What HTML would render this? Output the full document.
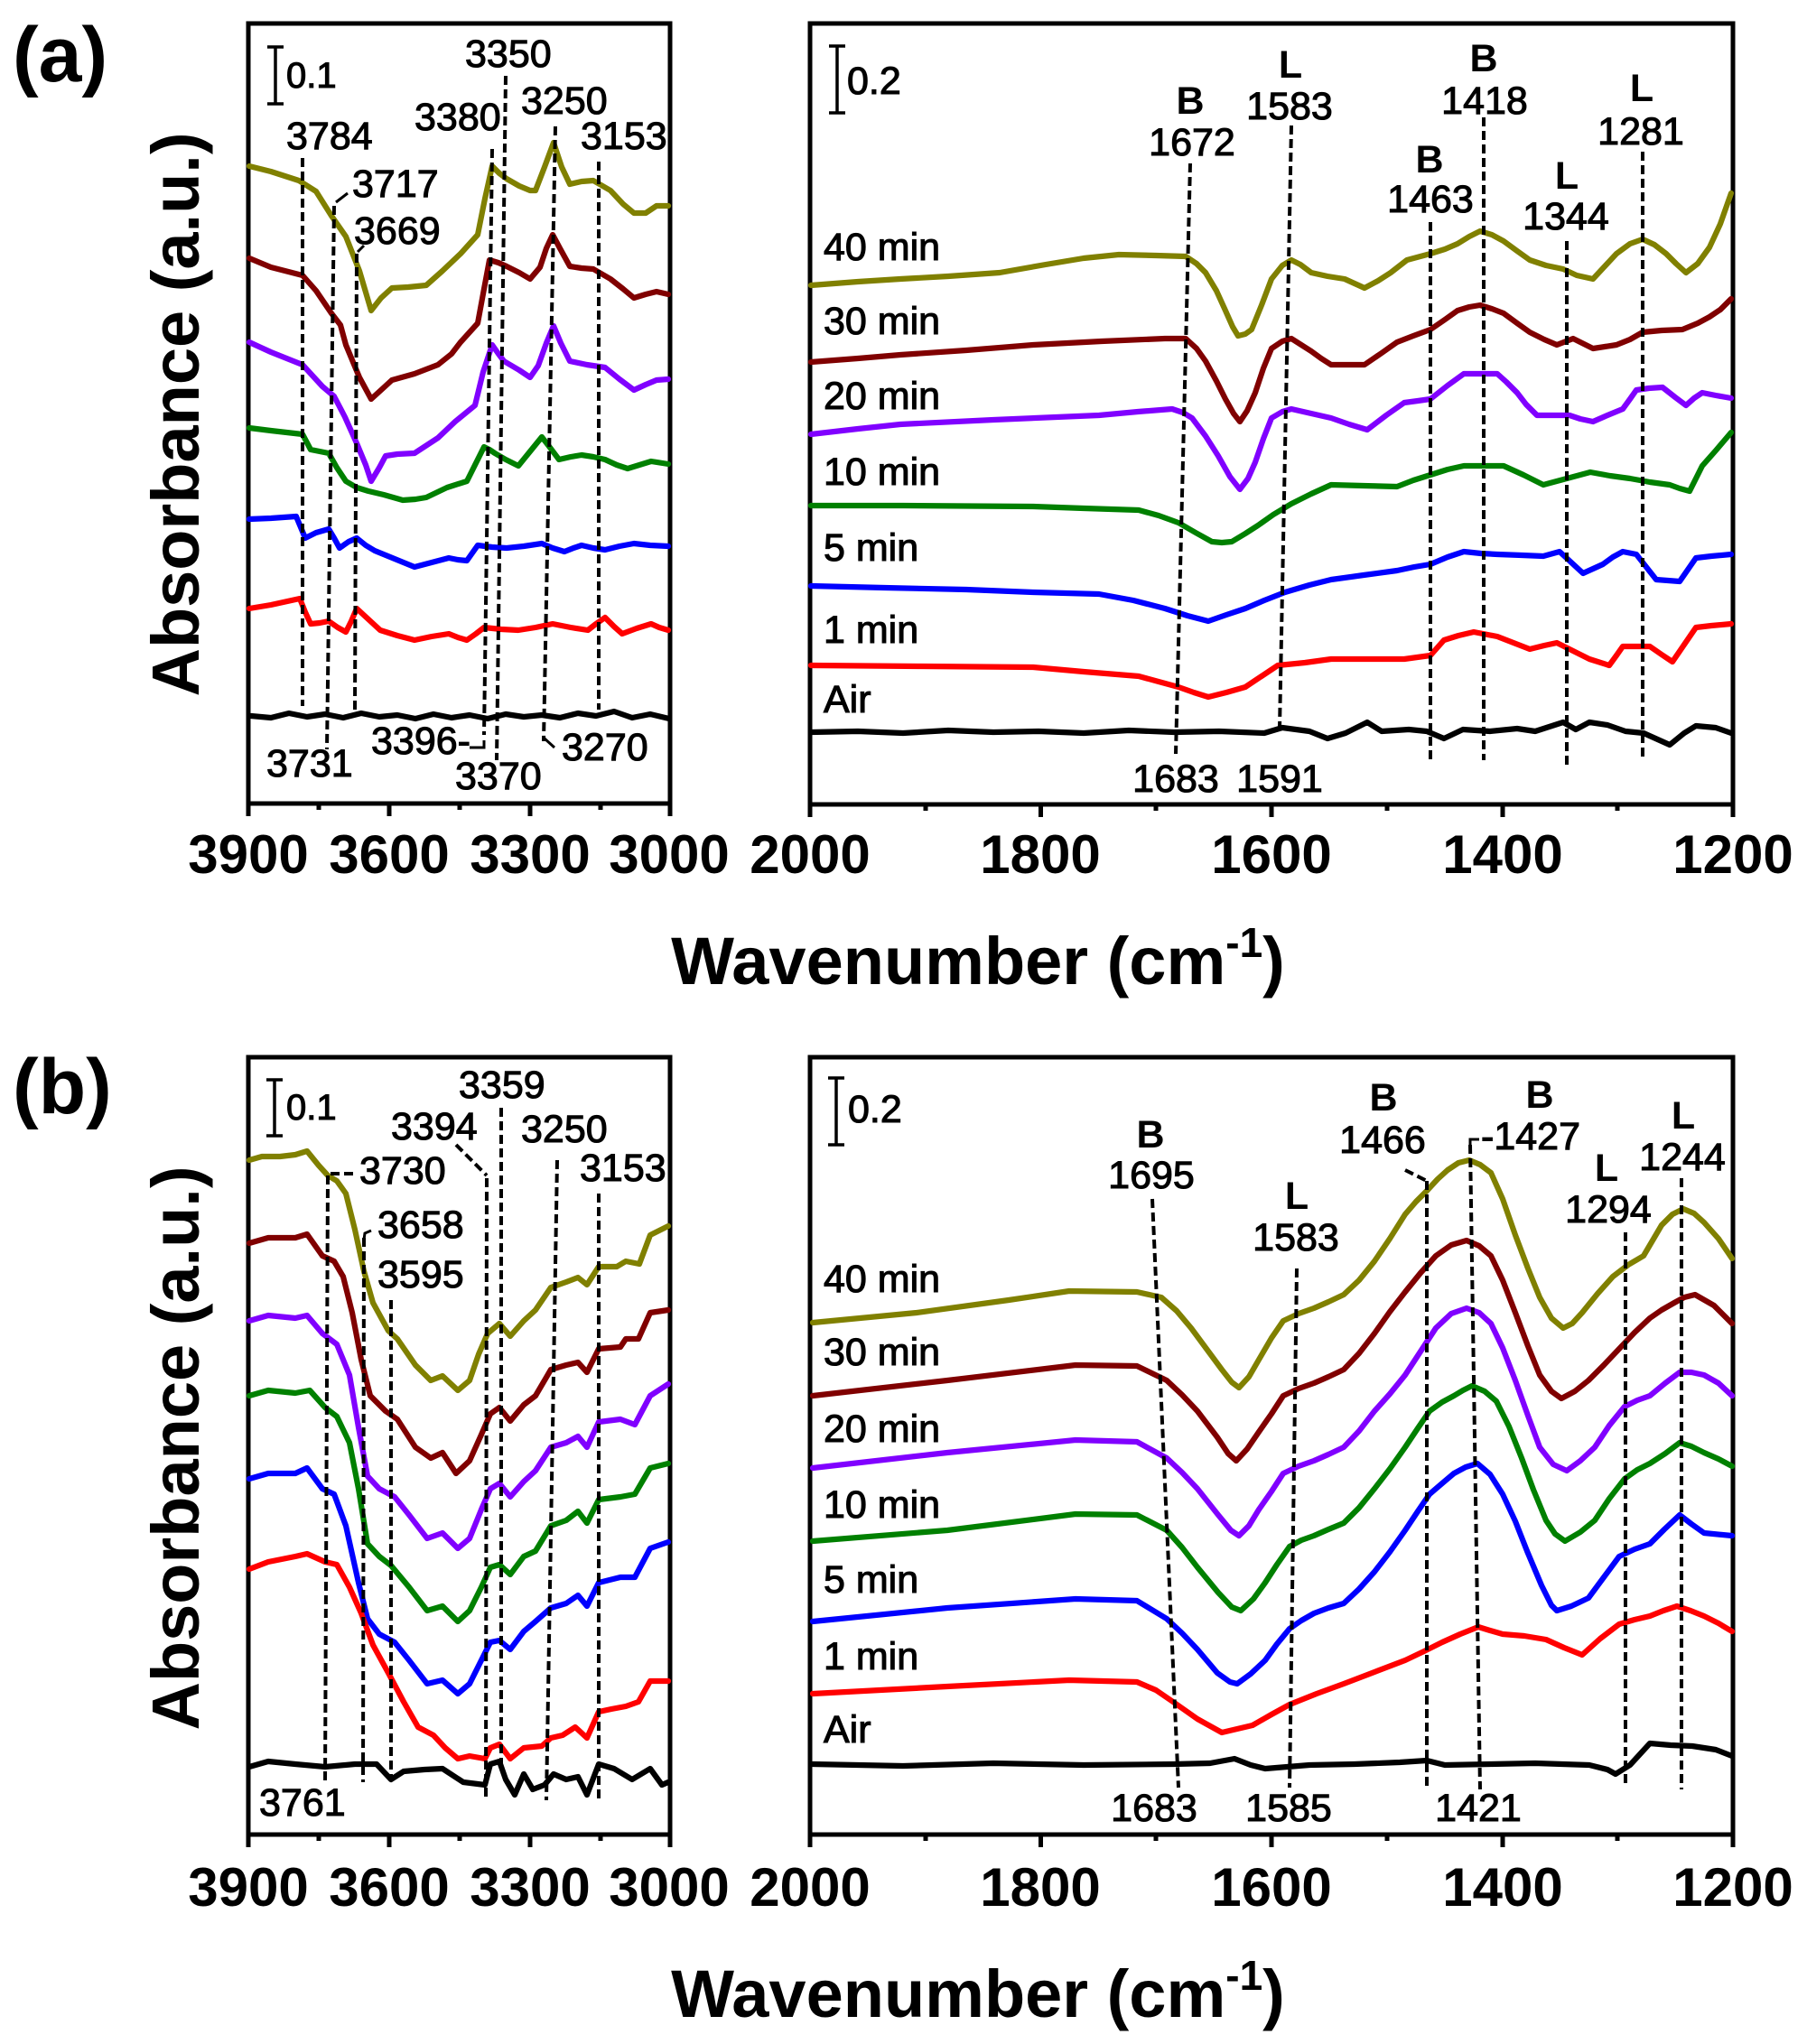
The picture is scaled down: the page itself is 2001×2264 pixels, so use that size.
<!DOCTYPE html>
<html><head><meta charset="utf-8"><style>
html,body{margin:0;padding:0;background:#fff;}
svg{display:block;}
text{font-family:"Liberation Sans",Arial,sans-serif;fill:#000;}
.n{font-size:43px;stroke:#000;stroke-width:1.1;}
.bl{font-size:43px;font-weight:bold;}
.tk{font-size:60px;font-weight:bold;}
.ax{font-size:74px;font-weight:bold;}
.c{fill:none;stroke-width:6.2;stroke-linejoin:round;stroke-linecap:round;}
.d{fill:none;stroke:#000;stroke-width:4;stroke-dasharray:10 5;}
.h{fill:none;stroke:#000;stroke-width:3;}
</style></head><body>
<svg width="2001" height="2264" viewBox="0 0 2001 2264" xmlns="http://www.w3.org/2000/svg">
<rect width="2001" height="2264" fill="#fff"/>

<!-- ============ PANEL (a) ============ -->
<text x="14" y="90" style="font-size:86px;font-weight:bold">(a)</text>
<text class="ax" transform="translate(220,459) rotate(-90)" text-anchor="middle">Absorbance (a.u.)</text>
<text class="ax" x="1083" y="1090" text-anchor="middle">Wavenumber (cm<tspan dy="-30" style="font-size:46px">-1</tspan><tspan dy="30">)</tspan></text>

<g stroke="#000" stroke-width="5" fill="none">
<rect x="275" y="26" width="467" height="864"/>
<path d="M275 890v14M431 890v14M587 890v14M742 890v14M353 890v7M509 890v7M665 890v7"/>
<rect x="897" y="26" width="1022" height="865"/>
<path d="M897 891v14M1152.5 891v14M1408 891v14M1664 891v14M1919 891v14M1025 891v7M1280 891v7M1536 891v7M1791 891v7"/>
</g>
<g class="tk" text-anchor="middle">
<text x="275" y="967">3900</text><text x="431" y="967">3600</text><text x="587" y="967">3300</text><text x="741" y="967">3000</text>
<text x="897" y="967">2000</text><text x="1152" y="967">1800</text><text x="1408" y="967">1600</text><text x="1664" y="967">1400</text><text x="1919" y="967">1200</text>
</g>

<path d="M305 52V115M296 52H314M296 115H314" stroke="#000" stroke-width="3.5" fill="none"/>
<text x="317" y="97" class="n" style="font-size:40px">0.1</text>
<path d="M927 51V125M918 51H936M918 125H936" stroke="#000" stroke-width="3.5" fill="none"/>
<text x="938" y="104" class="n">0.2</text>

<polyline class="c" stroke="#808000" points="276,184 300,190 331,200 350,212 367,239 383,262 398,300 411,344 422,330 434,319 452,318 472,316 490,300 510,281 529,260 537,220 545,184 553,192 561,198 575,206 587,211 593,211 603,185 613,158 622,185 631,204 644,201 657,200 676,211 690,226 702,236 715,236 727,228 740,228"/>
<polyline class="c" stroke="#800000" points="276,286 300,296 335,305 350,322 367,347 377,360 383,382 398,418 411,442 422,432 434,421 459,414 485,404 500,392 510,379 529,358 536,320 542,288 552,291 561,295 575,302 587,309 598,296 605,275 612,260 620,275 631,295 644,297 657,298 676,309 690,320 702,330 715,326 727,323 740,326"/>
<polyline class="c" stroke="#8000ff" points="276,379 300,390 335,404 346,416 357,428 370,439 382,462 395,491 405,515 411,533 420,518 427,505 440,503 459,502 485,485 504,467 526,449 535,412 545,382 552,392 558,400 575,410 587,418 596,405 605,380 613,361 621,380 631,400 650,404 670,407 686,420 702,432 715,426 727,421 740,420"/>
<polyline class="c" stroke="#008000" points="276,474 300,477 335,481 344,498 354,500 364,502 373,518 383,533 395,540 408,544 425,548 446,554 460,553 472,551 495,540 517,533 526,515 536,495 542,498 548,502 560,509 574,516 587,500 600,484 610,497 619,509 632,506 644,504 657,506 670,509 683,515 695,519 708,515 721,511 740,514"/>
<polyline class="c" stroke="#0000ff" points="276,575 300,574 328,572 338,596 350,590 364,586 370,596 376,607 386,600 395,596 405,604 415,610 437,619 459,628 478,623 497,618 507,620 517,621 529,604 545,606 561,607 580,605 600,602 612,607 625,611 635,607 644,604 657,607 670,609 686,605 702,602 720,604 740,605"/>
<polyline class="c" stroke="#ff0000" points="276,674 300,670 332,663 338,678 344,691 354,690 364,688 374,695 383,700 389,688 395,674 408,686 421,698 440,704 459,709 478,705 497,702 507,706 517,709 527,702 536,695 555,697 574,698 593,695 612,691 632,695 651,698 660,691 670,684 680,694 689,702 705,696 721,691 730,695 740,698"/>
<polyline class="c" stroke="#000" points="278,793 300,795 320,790 340,794 360,791 380,795 400,790 420,794 440,792 460,796 480,791 500,795 520,792 540,796 560,791 580,794 600,792 620,795 640,790 660,793 680,788 700,795 720,791 741,796"/>

<path class="d" d="M335 175L335 782M370 228L362 830M395 281L393 786M545 165L536 814M560 84L550 842M615 140L602 821M663 179L663 786"/>
<path class="h" d="M372 224L385 214M396 279L403 272M603 818L614 828M520 828L536 828L536 820"/>
<g class="n">
<text x="317" y="165">3784</text><text x="390" y="218">3717</text><text x="392" y="270">3669</text>
<text x="459" y="144">3380</text><text x="515" y="74">3350</text><text x="577" y="126">3250</text><text x="643" y="165">3153</text>
<text x="295" y="860">3731</text><text x="411" y="835">3396-</text><text x="504" y="874">3370</text><text x="622" y="842">3270</text>
</g>

<polyline class="c" stroke="#808000" points="898,316 950,312 997,309 1050,306 1107,302 1158,293 1200,286 1239,282 1280,283 1313,284 1325,292 1335,302 1347,322 1357,344 1365,362 1371,372 1379,370 1386,365 1397,338 1408,309 1420,294 1430,288 1440,293 1452,302 1470,306 1489,309 1500,314 1511,319 1526,311 1540,302 1558,288 1584,281 1600,276 1614,270 1627,262 1639,256 1652,260 1665,267 1680,278 1694,288 1712,294 1731,298 1746,305 1764,309 1777,295 1790,281 1805,270 1819,265 1832,271 1845,281 1856,292 1867,302 1880,292 1893,274 1905,248 1917,214"/>
<polyline class="c" stroke="#800000" points="898,401 950,397 997,393 1070,388 1144,382 1220,378 1290,375 1313,375 1325,386 1335,400 1347,422 1357,442 1366,458 1373,467 1381,455 1390,435 1399,408 1408,386 1420,378 1430,375 1441,382 1452,389 1463,397 1474,404 1490,404 1511,404 1530,391 1547,379 1565,372 1584,365 1600,354 1614,344 1627,340 1639,338 1652,342 1665,347 1680,358 1694,368 1710,376 1724,382 1742,375 1764,386 1790,382 1805,376 1819,368 1840,366 1863,365 1880,358 1893,351 1905,343 1917,331"/>
<polyline class="c" stroke="#8000ff" points="898,481 950,475 997,470 1100,465 1217,460 1260,456 1298,453 1310,457 1320,463 1335,483 1349,505 1362,528 1373,542 1382,530 1390,512 1399,486 1408,463 1420,456 1430,453 1452,458 1474,463 1494,470 1514,476 1535,460 1555,446 1570,444 1584,442 1603,427 1621,414 1640,414 1658,414 1668,423 1680,435 1690,448 1702,460 1720,460 1738,460 1750,464 1764,467 1780,460 1797,453 1805,442 1812,432 1826,430 1841,429 1855,440 1867,449 1876,441 1885,435 1900,438 1917,441"/>
<polyline class="c" stroke="#008000" points="898,560 1000,560 1144,561 1200,563 1261,565 1283,571 1305,579 1324,590 1342,600 1353,601 1364,600 1379,591 1393,582 1410,570 1430,558 1452,547 1474,537 1510,538 1547,539 1565,532 1584,526 1603,520 1621,516 1643,516 1665,516 1687,526 1709,537 1735,530 1761,523 1783,527 1805,530 1827,534 1849,537 1860,541 1871,544 1878,530 1885,516 1900,499 1917,479"/>
<polyline class="c" stroke="#0000ff" points="898,649 980,651 1070,653 1144,656 1217,658 1255,665 1290,674 1315,682 1338,688 1358,681 1379,674 1400,665 1423,656 1450,648 1474,642 1510,637 1547,632 1566,628 1584,625 1603,617 1621,611 1640,613 1658,614 1685,615 1709,616 1727,611 1740,623 1753,635 1764,630 1775,625 1786,617 1797,611 1812,614 1823,628 1834,642 1847,643 1860,644 1869,631 1878,618 1895,616 1917,614"/>
<polyline class="c" stroke="#ff0000" points="898,737 1020,738 1144,739 1200,744 1261,749 1283,755 1305,761 1322,767 1338,772 1358,767 1379,761 1397,749 1415,737 1445,734 1474,730 1515,730 1555,730 1584,726 1599,709 1615,704 1632,700 1658,705 1676,712 1694,719 1710,715 1724,712 1738,719 1760,730 1782,737 1790,726 1797,716 1812,716 1827,716 1840,725 1852,733 1865,714 1878,695 1895,693 1917,691"/>
<polyline class="c" stroke="#000" points="898,811 950,810 1000,812 1050,809 1100,811 1150,810 1200,812 1250,809 1300,811 1350,810 1400,812 1420,806 1450,810 1470,818 1490,812 1514,800 1530,810 1560,808 1580,810 1599,818 1620,808 1650,810 1680,807 1700,810 1731,800 1745,808 1760,800 1780,803 1800,810 1820,812 1849,825 1865,812 1878,804 1900,806 1917,812"/>

<path class="d" d="M1318 181L1302 835M1430 139L1417 807M1584 246L1584 846M1643 130L1643 842M1735 267L1735 849M1819 168L1819 842"/>
<g class="bl" text-anchor="middle">
<text x="1318" y="126">B</text><text x="1429" y="86">L</text><text x="1583" y="191">B</text><text x="1643" y="79">B</text><text x="1735" y="209">L</text><text x="1818" y="112">L</text>
</g>
<g class="n" text-anchor="middle">
<text x="1320" y="172">1672</text><text x="1428" y="132">1583</text><text x="1584" y="235">1463</text><text x="1644" y="126">1418</text><text x="1734" y="254">1344</text><text x="1817" y="160">1281</text>
<text x="1302" y="877">1683</text><text x="1417" y="877">1591</text>
</g>
<g class="n">
<text x="912" y="288">40 min</text><text x="912" y="370">30 min</text><text x="912" y="453">20 min</text><text x="912" y="537">10 min</text><text x="912" y="621">5 min</text><text x="912" y="712">1 min</text><text x="912" y="789">Air</text>
</g>

<!-- ============ PANEL (b) ============ -->
<text x="14" y="1233" style="font-size:86px;font-weight:bold">(b)</text>
<text class="ax" transform="translate(220,1604) rotate(-90)" text-anchor="middle">Absorbance (a.u.)</text>
<text class="ax" x="1083" y="2234" text-anchor="middle">Wavenumber (cm<tspan dy="-30" style="font-size:46px">-1</tspan><tspan dy="30">)</tspan></text>

<g stroke="#000" stroke-width="5" fill="none">
<rect x="275" y="1171" width="467" height="861"/>
<path d="M275 2032v14M431 2032v14M587 2032v14M742 2032v14M353 2032v7M509 2032v7M665 2032v7"/>
<rect x="897" y="1171" width="1022" height="861"/>
<path d="M897 2032v14M1152.5 2032v14M1408 2032v14M1664 2032v14M1919 2032v14M1025 2032v7M1280 2032v7M1536 2032v7M1791 2032v7"/>
</g>
<g class="tk" text-anchor="middle">
<text x="275" y="2111">3900</text><text x="431" y="2111">3600</text><text x="587" y="2111">3300</text><text x="741" y="2111">3000</text>
<text x="897" y="2111">2000</text><text x="1152" y="2111">1800</text><text x="1408" y="2111">1600</text><text x="1664" y="2111">1400</text><text x="1919" y="2111">1200</text>
</g>

<path d="M304 1196V1258M295 1196H313M295 1258H313" stroke="#000" stroke-width="3.5" fill="none"/>
<text x="317" y="1240" class="n" style="font-size:40px">0.1</text>
<path d="M926 1194V1268M917 1194H935M917 1268H935" stroke="#000" stroke-width="3.5" fill="none"/>
<text x="939" y="1243" class="n">0.2</text>

<polyline class="c" stroke="#808000" points="276,1285 290,1281 310,1281 327,1279 340,1275 353,1291 363,1302 373,1308 383,1322 393,1362 403,1408 413,1443 430,1474 440,1483 460,1512 477,1529 490,1524 507,1540 520,1529 530,1500 540,1477 553,1466 565,1480 580,1463 593,1451 610,1426 627,1420 640,1415 650,1423 663,1403 683,1403 693,1397 708,1400 720,1368 740,1358"/>
<polyline class="c" stroke="#800000" points="276,1377 297,1371 327,1371 340,1367 357,1391 370,1397 380,1414 390,1454 400,1506 410,1546 427,1563 440,1572 460,1603 477,1615 490,1609 505,1632 520,1618 533,1589 543,1566 553,1559 565,1574 580,1556 593,1546 610,1517 627,1512 640,1509 650,1520 663,1494 687,1492 693,1483 707,1483 720,1454 740,1451"/>
<polyline class="c" stroke="#8000ff" points="276,1463 297,1457 327,1460 340,1457 357,1477 373,1489 387,1523 397,1581 407,1635 420,1649 437,1658 453,1678 473,1704 490,1698 507,1715 520,1704 533,1672 543,1649 553,1643 565,1658 580,1641 593,1629 610,1603 627,1598 640,1591 650,1603 663,1575 687,1572 703,1578 720,1546 740,1533"/>
<polyline class="c" stroke="#008000" points="276,1546 297,1540 327,1543 343,1540 360,1559 373,1569 387,1598 397,1649 407,1710 420,1724 433,1734 453,1758 473,1784 490,1779 507,1796 520,1784 533,1758 543,1736 553,1733 565,1744 580,1724 593,1718 610,1690 627,1684 640,1674 650,1687 663,1661 687,1658 703,1655 720,1626 740,1621"/>
<polyline class="c" stroke="#0000ff" points="276,1638 297,1632 327,1632 340,1626 357,1649 370,1655 383,1690 397,1753 407,1793 420,1810 437,1819 453,1839 473,1865 490,1861 507,1876 520,1865 533,1839 543,1819 553,1817 565,1827 580,1807 593,1796 610,1781 627,1776 640,1767 650,1779 663,1753 687,1747 703,1747 720,1715 740,1708"/>
<polyline class="c" stroke="#ff0000" points="276,1738 297,1730 327,1724 340,1721 360,1730 373,1733 387,1758 400,1787 413,1822 430,1853 447,1885 463,1913 480,1922 493,1936 507,1948 520,1945 537,1948 543,1936 553,1932 565,1948 580,1936 600,1934 610,1925 623,1922 637,1913 650,1925 663,1896 677,1893 693,1890 707,1885 720,1862 740,1862"/>
<polyline class="c" stroke="#000" points="276,1957 297,1951 327,1954 360,1957 393,1954 417,1954 433,1971 447,1962 470,1960 490,1959 513,1974 537,1977 543,1954 553,1951 560,1971 570,1988 580,1965 590,1982 603,1977 613,1965 627,1971 640,1968 650,1988 663,1954 680,1959 700,1971 720,1959 733,1977 740,1974"/>

<path class="d" d="M363 1302L360 1977M403 1371L402 1974M433 1440L433 1971M539 1305L538 1991M555 1227L555 1959M617 1285L605 1994M663 1322L663 1994M366 1300L396 1300M505 1268L539 1302"/>
<path class="h" d="M403 1373L404 1366L411 1363"/>
<g class="n">
<text x="398" y="1311">3730</text><text x="418" y="1371">3658</text><text x="418" y="1426">3595</text>
<text x="433" y="1262">3394</text><text x="508" y="1216">3359</text><text x="577" y="1265">3250</text><text x="642" y="1308">3153</text>
<text x="287" y="2011">3761</text>
</g>

<polyline class="c" stroke="#808000" points="900,1465 1015,1454 1117,1440 1184,1430 1259,1431 1286,1437 1303,1452 1319,1471 1336,1494 1353,1517 1364,1531 1372,1537 1383,1525 1394,1506 1408,1482 1421,1463 1438,1455 1455,1449 1471,1442 1488,1434 1505,1418 1522,1397 1539,1372 1556,1345 1568,1331 1580,1319 1592,1306 1603,1296 1615,1288 1627,1285 1639,1290 1651,1299 1664,1328 1678,1368 1692,1405 1705,1437 1718,1460 1731,1471 1741,1466 1752,1454 1769,1433 1786,1414 1803,1401 1820,1391 1830,1374 1840,1357 1852,1345 1864,1339 1876,1344 1887,1354 1903,1372 1918,1394"/>
<polyline class="c" stroke="#800000" points="900,1546 1049,1529 1191,1512 1259,1513 1292,1529 1309,1545 1326,1563 1348,1592 1360,1610 1369,1618 1381,1605 1394,1586 1408,1566 1421,1546 1438,1538 1455,1532 1471,1525 1488,1517 1505,1499 1522,1477 1539,1453 1556,1431 1573,1410 1590,1391 1607,1379 1624,1374 1638,1380 1651,1391 1664,1418 1678,1454 1692,1491 1705,1523 1718,1541 1729,1549 1744,1541 1759,1529 1776,1512 1793,1494 1810,1476 1827,1460 1840,1451 1854,1443 1865,1437 1877,1434 1898,1446 1918,1466"/>
<polyline class="c" stroke="#8000ff" points="900,1626 1049,1609 1191,1595 1259,1597 1292,1615 1309,1631 1326,1649 1349,1678 1363,1695 1372,1701 1383,1690 1394,1672 1408,1652 1421,1632 1438,1624 1455,1618 1471,1611 1488,1603 1505,1585 1522,1563 1539,1544 1556,1523 1573,1497 1590,1471 1607,1455 1624,1449 1638,1454 1651,1466 1664,1493 1678,1529 1692,1568 1705,1603 1720,1622 1735,1629 1750,1618 1766,1603 1782,1579 1799,1558 1813,1551 1827,1546 1844,1532 1860,1520 1873,1520 1887,1523 1903,1532 1918,1546"/>
<polyline class="c" stroke="#008000" points="900,1707 1049,1695 1191,1677 1259,1678 1292,1695 1309,1714 1326,1736 1349,1764 1364,1780 1374,1784 1388,1771 1401,1753 1414,1733 1428,1713 1441,1706 1455,1701 1471,1694 1488,1687 1505,1670 1522,1649 1539,1627 1556,1603 1570,1582 1583,1563 1597,1553 1610,1546 1620,1540 1630,1535 1644,1541 1657,1552 1671,1580 1685,1615 1698,1650 1712,1684 1722,1699 1733,1707 1750,1697 1766,1684 1782,1660 1799,1638 1813,1628 1827,1621 1844,1610 1860,1598 1873,1602 1887,1609 1903,1616 1918,1624"/>
<polyline class="c" stroke="#0000ff" points="900,1796 1049,1781 1191,1771 1259,1773 1292,1793 1309,1809 1326,1827 1348,1853 1362,1863 1370,1865 1385,1854 1401,1839 1414,1821 1428,1804 1441,1795 1455,1787 1471,1781 1488,1776 1505,1760 1522,1741 1539,1719 1556,1695 1570,1674 1583,1655 1597,1643 1610,1632 1623,1625 1636,1621 1650,1633 1664,1655 1678,1685 1691,1718 1707,1756 1718,1778 1724,1784 1740,1779 1759,1770 1776,1747 1793,1724 1810,1716 1827,1710 1843,1694 1860,1678 1873,1688 1887,1698 1918,1701"/>
<polyline class="c" stroke="#ff0000" points="900,1876 1049,1868 1184,1861 1259,1863 1280,1872 1299,1885 1326,1904 1353,1919 1370,1915 1387,1911 1408,1899 1428,1888 1458,1876 1488,1865 1522,1852 1556,1839 1577,1829 1597,1819 1617,1810 1637,1802 1650,1806 1664,1810 1688,1812 1712,1816 1732,1825 1752,1833 1772,1815 1793,1799 1810,1794 1827,1790 1842,1784 1857,1779 1872,1784 1887,1790 1903,1798 1918,1807"/>
<polyline class="c" stroke="#000" points="900,1954 1000,1956 1100,1953 1200,1955 1300,1954 1340,1953 1367,1948 1385,1955 1401,1959 1450,1955 1500,1954 1550,1952 1580,1950 1600,1955 1650,1954 1700,1953 1760,1955 1780,1960 1789,1965 1805,1955 1827,1931 1850,1933 1874,1934 1900,1938 1918,1945"/>

<path class="d" d="M1276 1328L1305 1980M1436 1405L1428 1980M1580 1308L1580 1980M1628 1268L1639 1982M1800 1365L1800 1980M1862 1305L1862 1982M1556 1296L1580 1308"/>
<path class="h" d="M1628 1270L1628 1262L1638 1262"/>
<g class="bl" text-anchor="middle">
<text x="1274" y="1271">B</text><text x="1436" y="1339">L</text><text x="1532" y="1230">B</text><text x="1705" y="1227">B</text><text x="1779" y="1308">L</text><text x="1864" y="1250">L</text>
</g>
<g class="n" text-anchor="middle">
<text x="1275" y="1316">1695</text><text x="1435" y="1385">1583</text><text x="1531" y="1277">1466</text><text x="1781" y="1354">1294</text><text x="1863" y="1296">1244</text>
<text x="1278" y="2017">1683</text><text x="1427" y="2017">1585</text><text x="1637" y="2017">1421</text>
</g>
<text class="n" x="1640" y="1273">-1427</text>
<g class="n">
<text x="912" y="1431">40 min</text><text x="912" y="1512">30 min</text><text x="912" y="1597">20 min</text><text x="912" y="1681">10 min</text><text x="912" y="1764">5 min</text><text x="912" y="1849">1 min</text><text x="912" y="1930">Air</text>
</g>
</svg>
</body></html>
